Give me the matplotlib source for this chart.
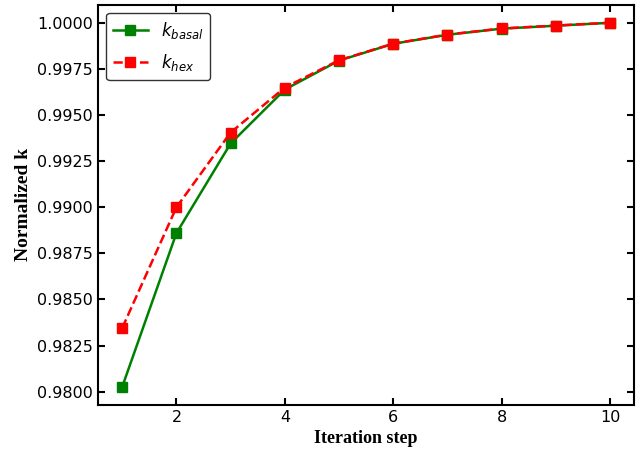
import numpy as np
import matplotlib.pyplot as plt

# data
steps = np.arange(1, 11)
k_basal = [0.98027, 0.98860, 0.99346, 0.99638, 0.99795, 0.99886, 0.99935, 0.99968, 0.99984, 1.0000]
k_hex = [0.98346, 0.99000, 0.99405, 0.99649, 0.99797, 0.99887, 0.99936, 0.99969, 0.99985, 1.0000]

fig, ax = plt.subplots(figsize=(6.44, 4.57), dpi=100)
fig.subplots_adjust(left=0.152, right=0.985, bottom=0.114, top=0.99)

ax.plot(steps, k_basal, color="green", marker="s", markersize=7, linewidth=1.8, label=r"$k_{basal}$")
ax.plot(steps, k_hex, color="red", marker="s", markersize=7, linewidth=1.8, linestyle="--", label=r"$k_{hex}$")

ax.set_xlabel("Iteration step", fontfamily="Liberation Serif", fontweight="bold", fontsize=13)
ax.set_ylabel("Normalized k", fontfamily="Liberation Serif", fontweight="bold", fontsize=14)
ax.yaxis.set_major_formatter(plt.FormatStrFormatter("%.4f"))
ax.set_yticks(np.arange(0.98, 1.0001, 0.0025))
ax.set_xticks([2, 4, 6, 8, 10])
ax.tick_params(direction="in", top=True, right=True, width=1.5, length=5, labelsize=11.5)
for s in ax.spines.values():
    s.set_linewidth(1.5)

ax.legend(loc="upper left", fontsize=12, edgecolor="black", fancybox=True, handlelength=2.1,
          labelspacing=0.7)

plt.savefig("out.png")
